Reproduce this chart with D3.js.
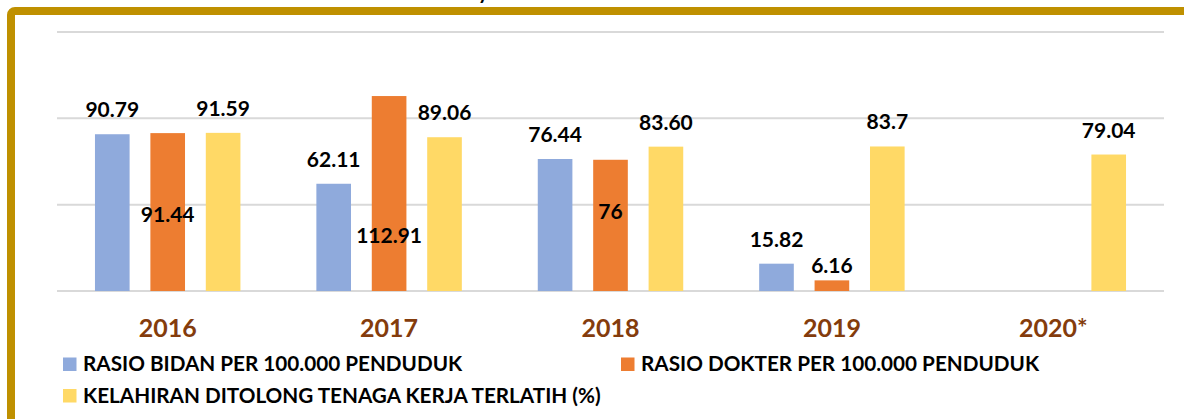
<!DOCTYPE html>
<html>
<head>
<meta charset="utf-8">
<script src="https://cdn.jsdelivr.net/npm/d3@7"></script>
<style>
  body { margin: 0; background: #fff; }
  svg { display: block; font-family: Lato, "Open Sans", sans-serif; }
</style>
</head>
<body>
<script>
const years = ["2016", "2017", "2018", "2019", "2020*"];
const bidan = [90.79, 62.11, 76.44, 15.82, null];
const dokter = [91.44, 112.91, 76, 6.16, null];
const kelahiran = [91.59, 89.06, 83.60, 83.7, 79.04];
const bidanLabels = ["90.79", "62.11", "76.44", "15.82", ""];
const dokterLabels = ["91.44", "112.91", "76", "6.16", ""];
const kelahiranLabels = ["91.59", "89.06", "83.60", "83.7", "79.04"];
const yTicks = [0, 50, 100, 150];
const seriesNames = [
  "RASIO BIDAN PER 100.000 PENDUDUK",
  "RASIO DOKTER PER 100.000 PENDUDUK",
  "KELAHIRAN DITOLONG TENAGA KERJA TERLATIH (%)"
];
// label offsets for the doctor series (placed by hand in the original)
const dokterLabelShift = [89, 147, 59, -7];

const w = 1184;
const h = 419;
const colors = ["#8FAADC", "#ED7D31", "#FFD966"];

const series = [
  { key: "bidan", values: bidan, labels: bidanLabels },
  { key: "dokter", values: dokter, labels: dokterLabels },
  { key: "kelahiran", values: kelahiran, labels: kelahiranLabels }
];

const svg = d3.select("body")
  .append("svg")
  .attr("width", w)
  .attr("height", h);

svg.append("rect").attr("width", w).attr("height", h).attr("fill", "#fff");

// clipped title fragment above the frame
svg.append("text")
  .attr("x", 478)
  .attr("y", -1)
  .attr("font-size", 20)
  .attr("font-weight", 700)
  .text("y");

// gold frame
svg.append("rect")
  .attr("x", 11)
  .attr("y", 11)
  .attr("width", 1400)
  .attr("height", 600)
  .attr("rx", 4)
  .attr("fill", "none")
  .attr("stroke", "#BF9000")
  .attr("stroke-width", 8);

// Scales
const x0 = d3.scaleBand()
  .domain(years)
  .range([57, 1164])
  .paddingInner(0.343)
  .paddingOuter(0.1715);

const x1 = d3.scaleBand()
  .domain(series.map((s) => s.key))
  .range([0, x0.bandwidth()])
  .paddingInner(0.375);

const y = d3.scaleLinear()
  .domain([0, 150])
  .range([291, 32]);

// Gridlines
svg.append("g")
  .selectAll("line")
  .data(yTicks)
  .enter()
  .append("line")
  .attr("x1", 57)
  .attr("x2", 1164)
  .attr("y1", (d) => y(d))
  .attr("y2", (d) => y(d))
  .attr("stroke", "#D9D9D9")
  .attr("stroke-width", 2);

// Bars
series.forEach((s, si) => {
  const rows = years.map((yr, i) => ({ year: yr, i, v: s.values[i], label: s.labels[i] }))
    .filter((d) => d.v != null);

  svg.append("g")
    .selectAll("rect")
    .data(rows)
    .enter()
    .append("rect")
    .attr("x", (d) => x0(d.year) + x1(s.key))
    .attr("y", (d) => y(d.v))
    .attr("width", x1.bandwidth())
    .attr("height", (d) => y(0) - y(d.v))
    .attr("fill", colors[si]);

  svg.append("g")
    .selectAll("text")
    .data(rows)
    .enter()
    .append("text")
    .attr("x", (d) => x0(d.year) + x1(s.key) + x1.bandwidth() / 2)
    .attr("y", (d) => s.key === "dokter" ? y(d.v) + dokterLabelShift[d.i] : y(d.v) - 17)
    .attr("text-anchor", "middle")
    .attr("font-size", 21)
    .attr("font-weight", 700)
    .attr("fill", "#000")
    .text((d) => d.label);
});

// Category labels
svg.append("g")
  .selectAll("text")
  .data(years)
  .enter()
  .append("text")
  .attr("x", (d) => x0(d) + x0.bandwidth() / 2)
  .attr("y", 336.5)
  .attr("text-anchor", "middle")
  .attr("font-size", 25)
  .attr("font-weight", 700)
  .attr("fill", "#843C0C")
  .text((d) => d);

// Legend
const legendPos = [
  { x: 63, y: 371 },
  { x: 621, y: 371 },
  { x: 63, y: 402.5 }
];
const legend = svg.append("g")
  .selectAll("g")
  .data(seriesNames)
  .enter()
  .append("g")
  .attr("transform", (d, i) => `translate(${legendPos[i].x}, ${legendPos[i].y})`);

legend.append("rect")
  .attr("x", 0)
  .attr("y", -13.5)
  .attr("width", 13.5)
  .attr("height", 13.5)
  .attr("fill", (d, i) => colors[i]);

legend.append("text")
  .attr("x", 20)
  .attr("y", 0)
  .attr("font-size", 20.7)
  .attr("font-weight", 700)
  .attr("fill", "#000")
  .text((d) => d);
</script>
</body>
</html>
